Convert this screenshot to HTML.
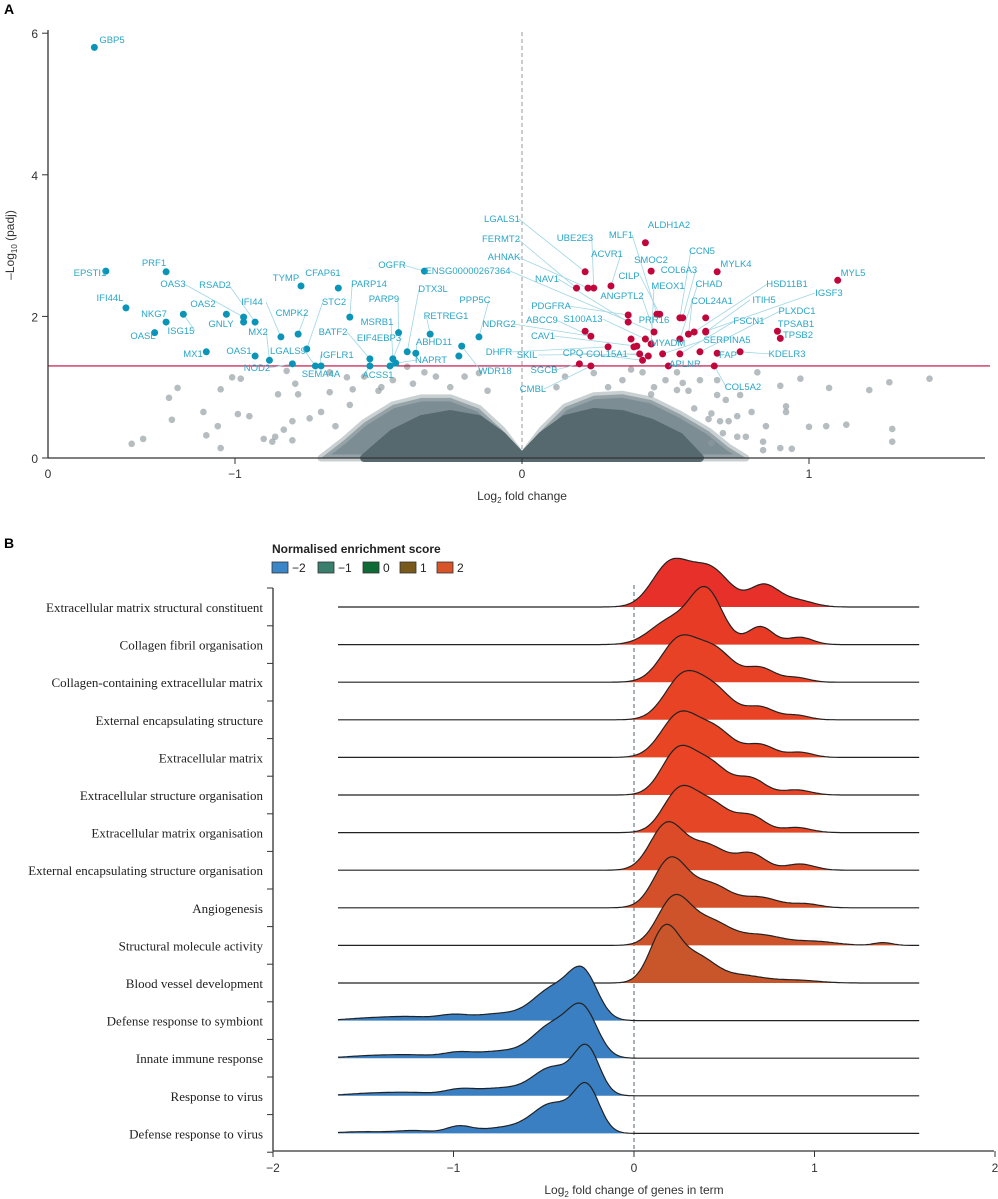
<!DOCTYPE html>
<html><head><meta charset="utf-8">
<style>
html,body{margin:0;padding:0;background:#fff;}
svg{display:block;font-family:"Liberation Sans",sans-serif;}
.lbl{font-size:9.5px;fill:#2aa6c6;}
.tick{font-size:12px;fill:#333;}
.rl{font-family:"Liberation Serif",serif;font-size:13px;fill:#222;}
</style></head>
<body>
<svg id="chart" width="998" height="1199" viewBox="0 0 998 1199">
<text x="4" y="14" font-size="14" font-weight="bold">A</text>
<text x="4" y="548" font-size="14" font-weight="bold">B</text>
<g id="volcano"></g>
<g id="ridge"></g>
</svg>
<script>
// ---------- Panel A data ----------
const cloudLfc = [-0.7,-0.62,-0.55,-0.45,-0.35,-0.25,-0.15,-0.07,0,0.07,0.15,0.25,0.35,0.45,0.55,0.65,0.72,0.78];
const cloudP   = [0,0.25,0.5,0.75,0.85,0.85,0.7,0.4,0.03,0.4,0.72,0.88,0.9,0.82,0.62,0.38,0.15,0];
const coreLfc = [-0.55,-0.45,-0.35,-0.25,-0.15,-0.07,0,0.07,0.15,0.25,0.35,0.45,0.55,0.62];
const coreP   = [0,0.35,0.55,0.62,0.55,0.32,0.02,0.32,0.55,0.65,0.62,0.5,0.3,0];
const greyLfc = [-1.36,-1.32,-1.23,-1.20,-1.22,-1.11,-1.10,-1.06,-1.05,-1.05,-0.99,-0.95,-1.01,-0.98,-0.90,-0.86,-0.85,-0.80,-0.83,-0.78,-0.82,-0.79,-0.87,-0.80,-0.74,-0.67,-0.67,-0.59,-0.61,-0.49,-0.40,-0.34,
0.82,0.97,1.07,1.21,1.28,1.42,0.90,0.92,0.92,1.00,1.06,1.13,1.29,1.29,0.94,0.90,0.84,0.84,0.85,0.80,0.75,0.72,0.69,0.66,0.66,0.68,0.71,0.68,0.62,0.75,0.78,0.76,0.42,0.54,0.56,0.54,0.46,
-0.55,-0.45,-0.5,-0.38,-0.3,-0.25,-0.2,-0.15,-0.12,0.12,0.15,0.25,0.35,0.3,0.38,0.5,0.58,0.45,-0.6,-0.7,-0.65,0.65,0.7,0.6];
const greyP = [0.20,0.27,0.85,0.99,0.54,0.65,0.32,0.45,0.14,0.97,0.62,0.59,1.14,1.12,0.27,0.30,0.90,0.52,0.40,0.90,1.23,1.05,0.23,0.25,0.56,0.93,1.21,0.97,1.14,1.00,1.29,1.21,
1.21,1.12,0.99,0.96,1.07,1.12,1.02,0.73,0.65,0.44,0.45,0.47,0.41,0.23,0.13,0.14,0.11,0.23,0.45,0.65,0.59,0.52,0.52,0.63,0.21,0.89,0.82,1.10,1.10,0.30,0.30,0.89,1.21,1.21,1.06,0.96,1.00,
1.15,1.1,0.95,1.05,1.15,1.0,1.15,1.2,0.95,1.0,1.15,1.2,1.1,1.0,1.25,1.1,0.95,0.9,0.75,0.65,0.45,0.55,0.35,0.7];
const downLfc = [-1.49,-1.45,-1.24,-1.38,-1.24,-1.18,-1.28,-1.03,-0.97,-0.97,-0.93,-0.84,-1.10,-0.93,-0.88,-0.77,-0.64,-0.78,-0.75,-0.60,-0.80,-0.72,-0.70,-0.34,-0.43,-0.40,-0.37,-0.32,-0.15,-0.21,-0.22,-0.53,-0.53,-0.45,-0.46,-0.44];
const downP   = [5.80,2.64,2.63,2.12,1.92,2.03,1.77,2.03,1.92,1.99,1.92,1.71,1.50,1.44,1.38,2.43,2.40,1.75,1.54,1.99,1.33,1.30,1.30,2.64,1.77,1.50,1.48,1.75,1.71,1.58,1.44,1.40,1.30,1.40,1.30,1.34];
const upLfc = [0.43,0.22,0.19,0.23,0.25,0.31,0.45,0.68,1.10,0.47,0.48,0.37,0.37,0.55,0.56,0.64,0.22,0.24,0.38,0.43,0.46,0.55,0.58,0.60,0.64,0.64,0.89,0.90,0.30,0.39,0.40,0.45,0.41,0.44,0.42,0.49,0.55,0.62,0.68,0.76,0.20,0.24,0.51,0.67];
const upP   = [3.04,2.63,2.40,2.40,2.40,2.43,2.64,2.63,2.51,2.03,2.03,2.02,1.92,1.98,1.98,1.98,1.79,1.72,1.68,1.68,1.78,1.68,1.75,1.78,1.78,1.79,1.79,1.69,1.57,1.57,1.58,1.61,1.47,1.44,1.38,1.47,1.47,1.50,1.48,1.50,1.33,1.30,1.30,1.30];
const xTickVals = [-1,0,1];
const xTickLabels = ["−1","0","1"];
const yTickVals = [0,2,4,6];
const threshold = 1.3;
const geneNames = ["GBP5","EPSTI1","PRF1","IFI44L","NKG7","ISG15","OASL","OAS3","RSAD2","OAS2","GNLY","IFI44","MX1","OAS1","MX2","NOD2","LGALS9","TYMP","CFAP61","CMPK2","STC2","PARP14","BATF2","IGFLR1","SEMA4A","OGFR","PARP9","MSRB1","EIF4EBP3","DTX3L","RETREG1","ABHD11","NAPRT","ACSS1","PPP5C","WDR18",
"ENSG00000267364","LGALS1","FERMT2","AHNAK","NDRG2","DHFR","UBE2E3","MLF1","ALDH1A2","ACVR1","SMOC2","CCN5","MYLK4","COL6A3","CILP","MEOX1","CHAD","NAV1","ANGPTL2","COL24A1","HSD11B1","ITIH5","IGSF3","MYL5","PLXDC1","TPSAB1","TPSB2","FSCN1","PDGFRA","ABCC9","S100A13","PRR16","CAV1","MYADM","SERPINA5","KDELR3","FAP","SKIL","CPQ","COL15A1","APLNR","SGCB","CMBL","COL5A2"];
const geneSeries = ["d","d","d","d","d","d","d","d","d","d","d","d","d","d","d","d","d","d","d","d","d","d","d","d","d","d","d","d","d","d","d","d","d","d","d","d",
"u","u","u","u","u","u","u","u","u","u","u","u","u","u","u","u","u","u","u","u","u","u","u","u","u","u","u","u","u","u","u","u","u","u","u","u","u","u","u","u","u","u","u","u"];
const genePoint = [-1,-1,-1,-1,-1,5,-1,9,10,-1,-1,11,-1,-1,14,20,21,-1,-1,17,18,19,31,22,-1,23,24,33,34,25,27,26,35,32,28,29,
20,1,2,3,17,28,4,9,-1,5,-1,13,-1,14,10,31,21,12,20,22,23,24,25,-1,37,-1,-1,36,11,17,19,-1,30,-1,35,39,-1,32,34,33,-1,40,41,43];
const labelX = [112,90,154,110,154,181,143,173,215,203,221,252,193,239,258,257,288,286,323,292,334,369,333,337,321,392,384,377,379,433,446,434,431,378,475,495,
468,502,501,504,499,499,575,621,669,607,651,702,736,679,629,668,709,547,622,712,787,764,829,853,797,796,798,749,551,542,583,654,543,668,727,787,728,527,573,607,685,544,533,743];
const labelY = [43,276,266,301,317,334,339,287,288,307,327,305,357,354,335,371,354,281,276,316,305,287,335,358,377,268,302,325,341,292,319,345,363,378,303,374,
274,222,242,260,327,355,241,238,228,257,263,254,267,273,279,289,287,282,299,304,287,303,296,276,314,327,338,324,309,323,322,323,339,346,343,357,358,358,356,357,367,373,392,390];

// ---------- Panel B data ----------
const terms = ["Extracellular matrix structural constituent","Collagen fibril organisation","Collagen-containing extracellular matrix","External encapsulating structure","Extracellular matrix","Extracellular structure organisation","Extracellular matrix organisation","External encapsulating structure organisation","Angiogenesis","Structural molecule activity","Blood vessel development","Defense response to symbiont","Innate immune response","Response to virus","Defense response to virus"];
const nes = [2.4,2.3,2.25,2.25,2.25,2.2,2.2,2.1,1.95,1.9,1.85,-2,-2,-2,-2];
const compMu = [[0.2,0.42,0.72,0.9],[0.2,0.4,0.7,0.92],[0.25,0.45,0.7,0.9],[0.27,0.45,0.7,0.9],[0.25,0.45,0.7,0.92],[0.24,0.42,0.65,0.9],[0.25,0.43,0.65,0.9],[0.18,0.4,0.65,0.92],[0.2,0.42,0.7,0.95],[0.22,0.42,0.7,1.0,1.38],[0.17,0.35,0.6,0.9],
[-0.28,-0.45,-0.75,-1.0,-1.25,-1.5],[-0.28,-0.45,-0.75,-0.98,-1.25,-1.5],[-0.26,-0.45,-0.75,-0.97,-1.25,-1.5],[-0.26,-0.45,-0.72,-0.97,-1.22,-1.5]];
const compSd = [[0.1,0.11,0.08,0.09],[0.11,0.09,0.07,0.07],[0.1,0.1,0.08,0.07],[0.1,0.1,0.08,0.07],[0.1,0.1,0.08,0.07],[0.09,0.1,0.08,0.08],[0.09,0.1,0.08,0.08],[0.09,0.11,0.08,0.08],[0.09,0.11,0.1,0.08],[0.09,0.11,0.12,0.12,0.05],[0.08,0.1,0.12,0.12],
[0.08,0.11,0.13,0.08,0.15,0.12],[0.08,0.11,0.13,0.08,0.15,0.12],[0.07,0.11,0.13,0.08,0.15,0.12],[0.07,0.11,0.13,0.07,0.1,0.12]];
const compH = [[0.75,0.68,0.38,0.12],[0.42,0.95,0.32,0.13],[0.75,0.55,0.25,0.08],[0.75,0.5,0.22,0.08],[0.75,0.48,0.22,0.09],[0.75,0.55,0.28,0.09],[0.72,0.5,0.28,0.09],[0.8,0.45,0.28,0.11],[0.85,0.42,0.18,0.07],[0.82,0.42,0.18,0.07,0.05],[0.95,0.45,0.13,0.05],
[0.78,0.55,0.12,0.08,0.07,0.03],[0.78,0.58,0.12,0.08,0.06,0.03],[0.8,0.5,0.13,0.09,0.06,0.03],[0.78,0.52,0.1,0.12,0.05,0.03]];
const fillColors = ["#e8302b","#e83b26","#e84226","#e84325","#e84525","#e84425","#e54625","#dc4b27","#d4502a","#cf532a","#c9562b","#3a7fc1","#3a7fc1","#3a7fc1","#3a7fc1"];
const bTickVals = [-2,-1,0,1,2];
const bTickLabels = ["−2","−1","0","1","2"];
const legendVals = ["−2","−1","0","1","2"];
const legendColors = ["#3b86c8","#3a7f6e","#0e6b36","#7a5a1c","#d8542b"];

const NS="http://www.w3.org/2000/svg";
function mk(parent,tag,attrs,text){const e=document.createElementNS(NS,tag);for(const k in attrs)e.setAttribute(k,attrs[k]);if(text!==undefined)e.textContent=text;parent.appendChild(e);return e;}

// ---- Panel A ----
const A=document.getElementById('volcano');
const ax=v=>522+287*v, ay=v=>458-70.8*v;
let e;
e=mk(A,'line',{x1:ax(0),y1:32,x2:ax(0),y2:458,stroke:'#999','stroke-dasharray':'4,3','stroke-width':1});


let d='';cloudLfc.forEach((v,i)=>{d+=(i?'L':'M')+ax(v)+','+ay(cloudP[i]);});
e=mk(A,'path',{d:d+'Z',fill:'#7d8d94',stroke:'#a5b0b4','stroke-width':7,'stroke-linejoin':'round','stroke-opacity':0.6});


d='';coreLfc.forEach((v,i)=>{d+=(i?'L':'M')+ax(v)+','+ay(coreP[i]);});
e=mk(A,'path',{d:d+'Z',fill:'#56696f',stroke:'#56696f','stroke-width':8,'stroke-linejoin':'round'});


greyLfc.forEach((v,i)=>{
  e=mk(A,'circle',{cx:ax(v),cy:ay(greyP[i]),r:3.3,fill:'#8e999e','fill-opacity':0.65});
  
  
});
e=mk(A,'line',{x1:48,y1:ay(threshold),x2:990,y2:ay(threshold),stroke:'#c0063b','stroke-width':1.2});


geneNames.forEach((g,i)=>{
  const pi=genePoint[i];
  if(pi>=0){
    const px=geneSeries[i]==='d'?ax(downLfc[pi]):ax(upLfc[pi]);
    const py=geneSeries[i]==='d'?ay(downP[pi]):ay(upP[pi]);
    const w=g.length*2.8;
    const sx=px>labelX[i]?labelX[i]+w:labelX[i]-w;
    e=mk(A,'line',{x1:sx,y1:labelY[i]-3,x2:px,y2:py,stroke:'#9fd6e4','stroke-width':0.8});
    
    
  }
});
downLfc.forEach((v,i)=>{
  e=mk(A,'circle',{cx:ax(v),cy:ay(downP[i]),r:3.5,fill:'#0a94b8'});
  
  
});
upLfc.forEach((v,i)=>{
  e=mk(A,'circle',{cx:ax(v),cy:ay(upP[i]),r:3.5,fill:'#c0063b'});
  
  
});
geneNames.forEach((g,i)=>{
  e=mk(A,'text',{x:labelX[i],y:labelY[i],'text-anchor':'middle',class:'lbl'},g);
  
  
});
e=mk(A,'line',{x1:48,y1:30,x2:48,y2:458,stroke:'#333','stroke-width':1.3});


e=mk(A,'line',{x1:48,y1:458,x2:985,y2:458,stroke:'#333','stroke-width':1.3});


yTickVals.forEach(v=>{
  mk(A,'line',{x1:42,y1:ay(v),x2:48,y2:ay(v),stroke:'#333'});
  e=mk(A,'text',{x:38,y:ay(v)+5,'text-anchor':'end',class:'tick'},String(v));
  
  
});
e=mk(A,'text',{x:48,y:478,'text-anchor':'middle',class:'tick'},'0');


xTickVals.forEach((v,i)=>{
  mk(A,'line',{x1:ax(v),y1:458,x2:ax(v),y2:464,stroke:'#333'});
  e=mk(A,'text',{x:ax(v),y:478,'text-anchor':'middle',class:'tick'},xTickLabels[i]);
  
  
});
e=mk(A,'text',{x:522,y:500,'text-anchor':'middle','font-size':12,fill:'#333'});
e.innerHTML='Log<tspan font-size="8" dy="3">2</tspan><tspan dy="-3"> fold change</tspan>';


e=mk(A,'text',{transform:'translate(14,245) rotate(-90)','text-anchor':'middle','font-size':12,fill:'#333'});
e.innerHTML='–Log<tspan font-size="8" dy="3">10</tspan><tspan dy="-3"> (padj)</tspan>';



// ---- Panel B ----
const B=document.getElementById('ridge');
const bx=v=>634+180.5*v;
const base=i=>607+37.6*i;
const hs=56;
e=mk(B,'text',{x:272,y:553,'font-size':12,'font-weight':'bold',fill:'#222'},'Normalised enrichment score');


const legX=[272,318,363,400,437];
legendVals.forEach((v,i)=>{
  e=mk(B,'rect',{x:legX[i],y:562,width:16,height:11,fill:legendColors[i],stroke:'#333','stroke-width':0.8});
  
  
  e=mk(B,'text',{x:legX[i]+20,y:572,'font-size':12,fill:'#222'},v);
  
  
});
e=mk(B,'line',{x1:bx(0),y1:585,x2:bx(0),y2:1151,stroke:'#6a7f88','stroke-dasharray':'4,3','stroke-width':1.2});


const xmin=-1.64,xmax=1.58,N=260;
terms.forEach((t,i)=>{
  const y0=base(i);
  let pts=[];
  for(let k=0;k<=N;k++){
    const x=xmin+(xmax-xmin)*k/N;
    let dens=0;
    compMu[i].forEach((m,j)=>{dens+=compH[i][j]*Math.exp(-0.5*Math.pow((x-m)/compSd[i][j],2));});
    pts.push([bx(x),y0-dens*hs]);
  }
  let p='M'+bx(xmin)+','+y0;pts.forEach(q=>p+='L'+q[0].toFixed(1)+','+q[1].toFixed(1));p+='L'+bx(xmax)+','+y0+'Z';
  e=mk(B,'path',{d:p,fill:fillColors[i]});
  
  
  let l='';pts.forEach((q,k)=>l+=(k?'L':'M')+q[0].toFixed(1)+','+q[1].toFixed(1));
  e=mk(B,'path',{d:l,fill:'none',stroke:'#222','stroke-width':1.2});
  
  
  e=mk(B,'text',{x:263,y:y0+5,'text-anchor':'end',class:'rl'},t);
  
  
});
e=mk(B,'line',{x1:273,y1:588,x2:273,y2:1151,stroke:'#333','stroke-width':1.3});


for(let i=0;i<=terms.length;i++){
  const y=i===0?588:base(i)-18.8;
  mk(B,'line',{x1:267,y1:y,x2:273,y2:y,stroke:'#333'});
}
e=mk(B,'line',{x1:273,y1:1151,x2:994,y2:1151,stroke:'#333','stroke-width':1.3});


bTickVals.forEach((v,i)=>{
  mk(B,'line',{x1:bx(v),y1:1151,x2:bx(v),y2:1157,stroke:'#333'});
  e=mk(B,'text',{x:bx(v),y:1172,'text-anchor':'middle',class:'tick'},bTickLabels[i]);
  
  
});
e=mk(B,'text',{x:634,y:1194,'text-anchor':'middle','font-size':12,fill:'#333'});
e.innerHTML='Log<tspan font-size="8" dy="3">2</tspan><tspan dy="-3"> fold change of genes in term</tspan>';


</script>
</body></html>
